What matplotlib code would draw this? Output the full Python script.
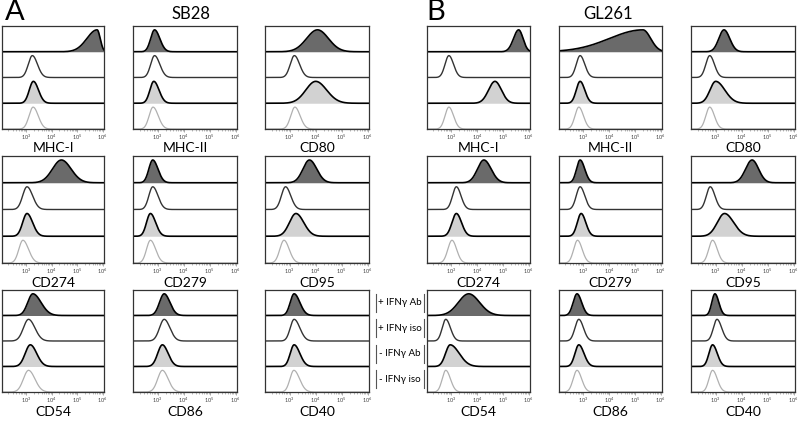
import numpy as np
import matplotlib
matplotlib.use("Agg")
import matplotlib.pyplot as plt
from matplotlib.lines import Line2D

plt.rcParams['font.family'] = ['Lato', 'DejaVu Sans']

# marker order in the 3x3 grid (row by row)
markers = ['MHC-I', 'MHC-II', 'CD80', 'CD274', 'CD279', 'CD95', 'CD54', 'CD86', 'CD40']
conditions = ['+ IFNγ Ab', '+ IFNγ iso', '- IFNγ Ab', '- IFNγ iso']

# peak position (log10 fluorescence) per marker, per condition (+Ab, +iso, -Ab, -iso)
sb28_peak = [
    [5.78, 3.24, 3.28, 3.27],
    [2.88, 2.88, 2.85, 2.82],
    [4.07, 3.18, 4.00, 3.20],
    [4.38, 3.03, 3.03, 2.87],
    [2.81, 2.81, 2.72, 2.72],
    [3.76, 2.84, 3.24, 2.78],
    [3.26, 3.09, 3.16, 3.09],
    [3.25, 3.25, 3.18, 3.18],
    [3.17, 3.17, 3.17, 3.16],
]
# spread left / right of the peak (decades)
sb28_sl = [
    [0.40, 0.16, 0.16, 0.16],
    [0.15, 0.15, 0.15, 0.15],
    [0.42, 0.16, 0.38, 0.16],
    [0.35, 0.17, 0.17, 0.16],
    [0.15, 0.15, 0.15, 0.15],
    [0.25, 0.16, 0.25, 0.16],
    [0.20, 0.20, 0.20, 0.20],
    [0.18, 0.18, 0.18, 0.18],
    [0.15, 0.15, 0.15, 0.15],
]
sb28_sr = [
    [0.12, 0.20, 0.20, 0.20],
    [0.20, 0.20, 0.20, 0.20],
    [0.42, 0.20, 0.42, 0.20],
    [0.38, 0.22, 0.22, 0.22],
    [0.20, 0.20, 0.20, 0.20],
    [0.28, 0.20, 0.30, 0.20],
    [0.32, 0.25, 0.25, 0.25],
    [0.22, 0.22, 0.22, 0.22],
    [0.22, 0.22, 0.22, 0.22],
]

gl261_peak = [
    [5.61, 2.90, 4.69, 2.90],
    [5.31, 2.87, 2.87, 2.82],
    [3.32, 2.77, 3.00, 2.77],
    [4.26, 3.19, 3.19, 3.02],
    [2.87, 2.87, 2.91, 2.77],
    [4.40, 2.79, 3.34, 2.88],
    [3.67, 2.78, 2.95, 2.78],
    [2.75, 2.82, 2.82, 2.75],
    [2.97, 3.05, 2.88, 2.88],
]
gl261_sl = [
    [0.20, 0.15, 0.25, 0.15],
    [1.30, 0.15, 0.15, 0.15],
    [0.20, 0.15, 0.22, 0.15],
    [0.25, 0.15, 0.17, 0.16],
    [0.14, 0.15, 0.15, 0.15],
    [0.25, 0.15, 0.28, 0.15],
    [0.40, 0.14, 0.18, 0.14],
    [0.15, 0.15, 0.15, 0.15],
    [0.12, 0.14, 0.14, 0.14],
]
gl261_sr = [
    [0.17, 0.18, 0.25, 0.18],
    [0.30, 0.18, 0.18, 0.18],
    [0.22, 0.18, 0.35, 0.18],
    [0.28, 0.18, 0.20, 0.18],
    [0.18, 0.18, 0.18, 0.18],
    [0.25, 0.18, 0.35, 0.18],
    [0.42, 0.18, 0.35, 0.18],
    [0.18, 0.18, 0.20, 0.18],
    [0.15, 0.18, 0.18, 0.18],
]

W, H = 800, 421
fig = plt.figure(figsize=(8, 4.21), dpi=100)

col_px = {'A': [(2, 104), (133, 237), (265, 369)],
          'B': [(427, 530), (559, 662), (691, 795)]}
row_px = [(26, 129), (156, 263), (290, 392)]
label_y = [148, 283, 412]

fill_cols = ['#6a6a6a', 'white', '#d2d2d2', None]
line_cols = ['black', '#333333', 'black', '#b0b0b0']
line_w = [1.2, 1.0, 1.2, 0.9]

u = np.linspace(1.8, 6.3, 600)
xv = 10 ** u


def shape(c, sl, sr):
    s = np.where(u < c, sl, sr)
    return 0.85 * np.exp(-0.5 * ((u - c) / s) ** 2)


def draw_panel(key, peaks, sls, srs):
    for i, name in enumerate(markers):
        r, c = divmod(i, 3)
        x0, x1 = col_px[key][c]
        y0, y1 = row_px[r]
        ax = fig.add_axes([x0 / W, 1 - y1 / H, (x1 - x0) / W, (y1 - y0) / H])
        for k in range(4):
            base = 3 - k
            y = shape(peaks[i][k], sls[i][k], srs[i][k])
            if fill_cols[k] is not None:
                ax.fill_between(xv, base, base + y, color=fill_cols[k], lw=0, zorder=2)
            ax.plot(xv, base + y, color=line_cols[k], lw=line_w[k], zorder=3)
        ax.set_xscale('log')
        ax.set_xlim(10 ** 2.05, 10 ** 6.05)
        ax.set_ylim(0, 4)
        ax.set_yticks([])
        ax.set_xticks([1e3, 1e4, 1e5, 1e6])
        ax.set_xticks([m * 10 ** e for e in range(2, 6) for m in range(2, 10)], minor=True)
        ax.tick_params(axis='x', which='major', labelsize=4, length=2, width=0.5,
                       color='#888888', pad=1, labelcolor='#444444')
        ax.tick_params(axis='x', which='minor', length=1.2, width=0.4, color='#888888')
        for sp in ax.spines.values():
            sp.set_linewidth(0.9)
            sp.set_color('#333333')
            sp.set_zorder(5)
        fig.text((x0 + x1) / 2 / W, 1 - label_y[r] / H, name, ha='center', va='center',
                 fontsize=10)


draw_panel('A', sb28_peak, sb28_sl, sb28_sr)
draw_panel('B', gl261_peak, gl261_sl, gl261_sr)

# panel letters and titles
fig.text(5 / W, 1 - 12 / H, 'A', fontsize=21, ha='left', va='center')
fig.text(191 / W, 1 - 14 / H, 'SB28', fontsize=12, ha='center', va='center')
fig.text(426 / W, 1 - 12 / H, 'B', fontsize=21, ha='left', va='center')
fig.text(608 / W, 1 - 14 / H, 'GL261', fontsize=12, ha='center', va='center')

# condition legend between panels
lane_h = (row_px[2][1] - row_px[2][0]) / 4
for k, lab in enumerate(conditions):
    yc = row_px[2][0] + lane_h * (k + 0.5)
    fig.text(400 / W, 1 - yc / H, lab, fontsize=7, ha='center', va='center')
    for xb in (376, 424):
        fig.add_artist(Line2D([xb / W, xb / W], [1 - (yc - 9) / H, 1 - (yc + 9) / H],
                              color='#555555', lw=0.8))

fig.savefig('out.png', dpi=100)
